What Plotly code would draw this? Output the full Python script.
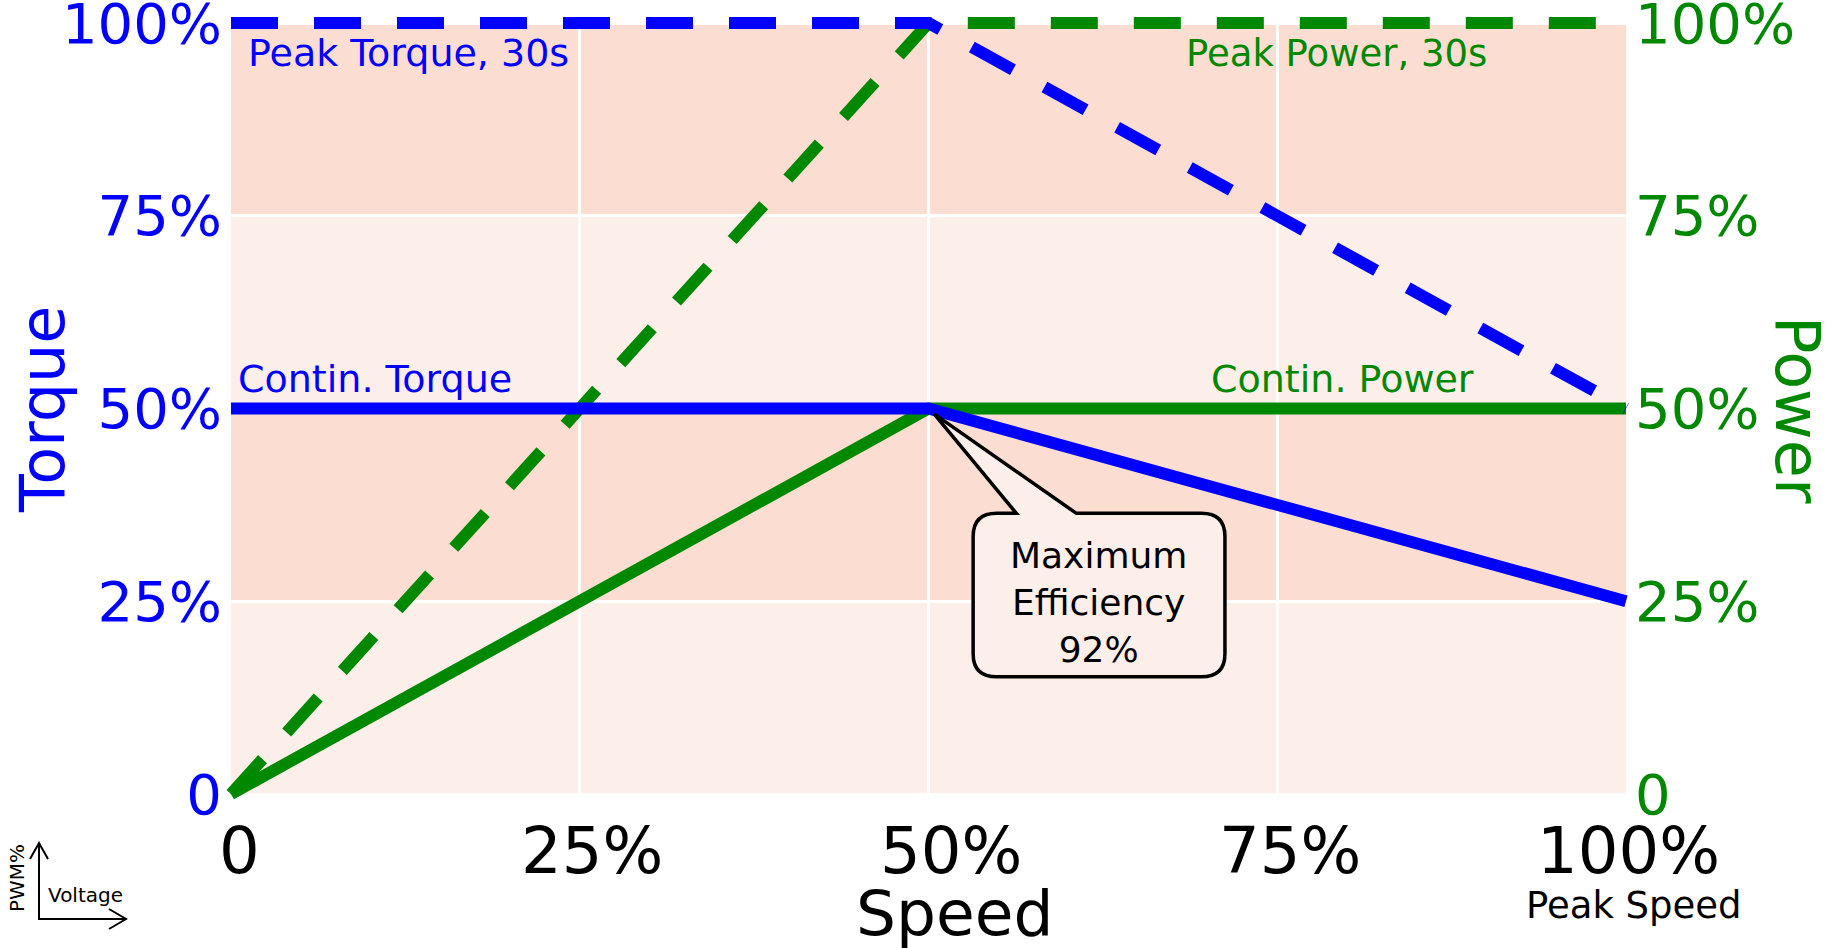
import plotly.graph_objects as go

# ---- data ----
speed = [0, 50, 100]
contin_torque = [50, 50, 25]
peak_torque = [100, 100, 50]
contin_power = [0, 50, 50]
peak_power = [0, 100, 100]

tick_vals = [0, 25, 50, 75, 100]
tick_text = ["0", "25%", "50%", "75%", "100%"]

BLUE = "#0000FF"
GREEN = "#008800"
DARK_BAND = "#FCDDD1"
LIGHT_BAND = "#FCEEE9"
FONT = "DejaVu Sans"

W, H = 1837, 948
# where 0..100 of the data lies on the page (pixels)
X0, X1, Y0, Y1 = 231, 1626, 794, 23
# plot area slightly larger than the 0..100 box so thick lines on its edge are not clipped
PAD = 8
LL, LR, LT, LB = X0 - PAD, X1 + PAD, Y1 - PAD, Y0 + PAD
L, T, R, B = LL, LT, W - LR, H - LB
XR = [-PAD / (X1 - X0) * 100, 100 + PAD / (X1 - X0) * 100]
YR = [-PAD / (Y0 - Y1) * 100, 100 + PAD / (Y0 - Y1) * 100]


def px(x):
    return (x - LL) / (LR - LL)


def py(y):
    return (LB - y) / (LB - LT)


fig = go.Figure()

# power on primary (right) axis, torque on overlaying (left) axis so torque draws on top
fig.add_trace(go.Scatter(x=speed, y=peak_power, mode="lines", yaxis="y",
                         line=dict(color=GREEN, width=12, dash="47px,36px"),
                         hoverinfo="skip", showlegend=False))
fig.add_trace(go.Scatter(x=speed, y=contin_power, mode="lines", yaxis="y",
                         line=dict(color=GREEN, width=12),
                         hoverinfo="skip", showlegend=False))
fig.add_trace(go.Scatter(x=speed, y=peak_torque, mode="lines", yaxis="y2",
                         line=dict(color=BLUE, width=12, dash="47px,36px"),
                         hoverinfo="skip", showlegend=False))
fig.add_trace(go.Scatter(x=speed, y=contin_torque, mode="lines", yaxis="y2",
                         line=dict(color=BLUE, width=12),
                         hoverinfo="skip", showlegend=False))

shapes = []
band_colors = [LIGHT_BAND, DARK_BAND, LIGHT_BAND, DARK_BAND]
for i, c in enumerate(band_colors):
    shapes.append(dict(type="rect", xref="x", yref="y", x0=0, x1=100,
                       y0=tick_vals[i], y1=tick_vals[i + 1],
                       fillcolor=c, line=dict(width=0), layer="below"))

# callout bubble (data coordinates)
xl, xr, yt, yb = 53.2, 71.25, 36.4, 15.2
rx, ry = 1.7, 3.0
t1, t2 = 56.3, 60.6
tipx, tipy = 50.4, 49.3
path = (f"M {xl+rx},{yt} L {t1},{yt} L {tipx},{tipy} L {t2},{yt} L {xr-rx},{yt} "
        f"Q {xr},{yt} {xr},{yt-ry} L {xr},{yb+ry} Q {xr},{yb} {xr-rx},{yb} "
        f"L {xl+rx},{yb} Q {xl},{yb} {xl},{yb+ry} L {xl},{yt-ry} Q {xl},{yt} {xl+rx},{yt} Z")
shapes.append(dict(type="path", xref="x", yref="y", path=path,
                   fillcolor=LIGHT_BAND, line=dict(color="black", width=3.5), layer="above"))

# PWM% / Voltage axes glyph (paper coordinates)
ax_path = (f"M {px(39)},{py(843)} L {px(39)},{py(919)} L {px(126)},{py(919)} "
           f"M {px(30)},{py(859)} L {px(39)},{py(843)} L {px(48)},{py(859)} "
           f"M {px(109)},{py(909)} L {px(126)},{py(919)} L {px(109)},{py(929)}")
shapes.append(dict(type="path", xref="paper", yref="paper", path=ax_path,
                   line=dict(color="black", width=2)))

annotations = [
    dict(text="Peak Torque, 30s", x=px(246), y=py(53), xref="paper", yref="paper",
         xanchor="left", yanchor="middle", showarrow=False,
         font=dict(family=FONT, size=38, color=BLUE)),
    dict(text="Peak Power, 30s", x=px(1489), y=py(53), xref="paper", yref="paper",
         xanchor="right", yanchor="middle", showarrow=False,
         font=dict(family=FONT, size=37, color=GREEN)),
    dict(text="Contin. Torque", x=px(236), y=py(379), xref="paper", yref="paper",
         xanchor="left", yanchor="middle", showarrow=False,
         font=dict(family=FONT, size=38, color=BLUE)),
    dict(text="Contin. Power", x=px(1209), y=py(379), xref="paper", yref="paper",
         xanchor="left", yanchor="middle", showarrow=False,
         font=dict(family=FONT, size=38, color=GREEN)),
    dict(text="Maximum<br>Efficiency<br>92%", x=62.2, y=24.8, xref="x", yref="y",
         xanchor="center", yanchor="middle", showarrow=False, align="center",
         font=dict(family=FONT, size=36, color="black")),
    dict(text="Torque", x=px(43), y=py(410), xref="paper", yref="paper",
         xanchor="center", yanchor="middle", showarrow=False, textangle=-90,
         font=dict(family=FONT, size=62, color=BLUE)),
    dict(text="Power", x=px(1797), y=py(410), xref="paper", yref="paper",
         xanchor="center", yanchor="middle", showarrow=False, textangle=90,
         font=dict(family=FONT, size=62, color=GREEN)),
    dict(text="Speed", x=px(955), y=py(913), xref="paper", yref="paper",
         xanchor="center", yanchor="middle", showarrow=False,
         font=dict(family=FONT, size=63, color="black")),
    dict(text="Peak Speed", x=px(1634), y=py(905), xref="paper", yref="paper",
         xanchor="center", yanchor="middle", showarrow=False,
         font=dict(family=FONT, size=37, color="black")),
    dict(text="PWM%", x=px(17), y=py(878), xref="paper", yref="paper",
         xanchor="center", yanchor="middle", showarrow=False, textangle=-90,
         font=dict(family=FONT, size=20, color="black")),
    dict(text="Voltage", x=px(46), y=py(895), xref="paper", yref="paper",
         xanchor="left", yanchor="middle", showarrow=False,
         font=dict(family=FONT, size=20, color="black")),
]

# x tick labels, placed at the tick values (slightly offset as in the original)
x_label_shift = [8, 12, 22, 13, 2]
for v, t, s in zip(tick_vals, tick_text, x_label_shift):
    annotations.append(dict(text=t, x=v, y=py(851), xref="x", yref="paper",
                            xshift=s, xanchor="center", yanchor="middle",
                            showarrow=False,
                            font=dict(family=FONT, size=64, color="black")))

fig.update_layout(
    width=W, height=H,
    margin=dict(l=L, r=R, t=T, b=B, pad=0),
    paper_bgcolor="white", plot_bgcolor="white",
    font=dict(family=FONT),
    showlegend=False,
    shapes=shapes,
    annotations=annotations,
    xaxis=dict(range=XR, tickvals=[25, 50, 75],
               showticklabels=False,
               showgrid=True, gridcolor="white", gridwidth=2.5, zeroline=False,
               showline=False, ticks="", automargin=False, fixedrange=True),
    yaxis=dict(range=YR, tickvals=tick_vals, ticktext=tick_text, side="right",
               showgrid=True, gridcolor="white", gridwidth=2.5, zeroline=False,
               showline=False, ticks="", ticklabelstandoff=0,
               ticklabeloverflow="allow", automargin=False,
               tickfont=dict(family=FONT, size=56, color=GREEN), fixedrange=True),
    yaxis2=dict(range=YR, tickvals=tick_vals, ticktext=tick_text, side="left",
                overlaying="y", showgrid=False, zeroline=False,
                showline=False, ticks="", ticklabelstandoff=0,
                ticklabeloverflow="allow", automargin=False,
                tickfont=dict(family=FONT, size=56, color=BLUE), fixedrange=True),
)

fig.write_html("out.html", config={"displayModeBar": False},
               post_script="document.body.style.margin='0px';"
                           "document.body.style.overflow='hidden';")
